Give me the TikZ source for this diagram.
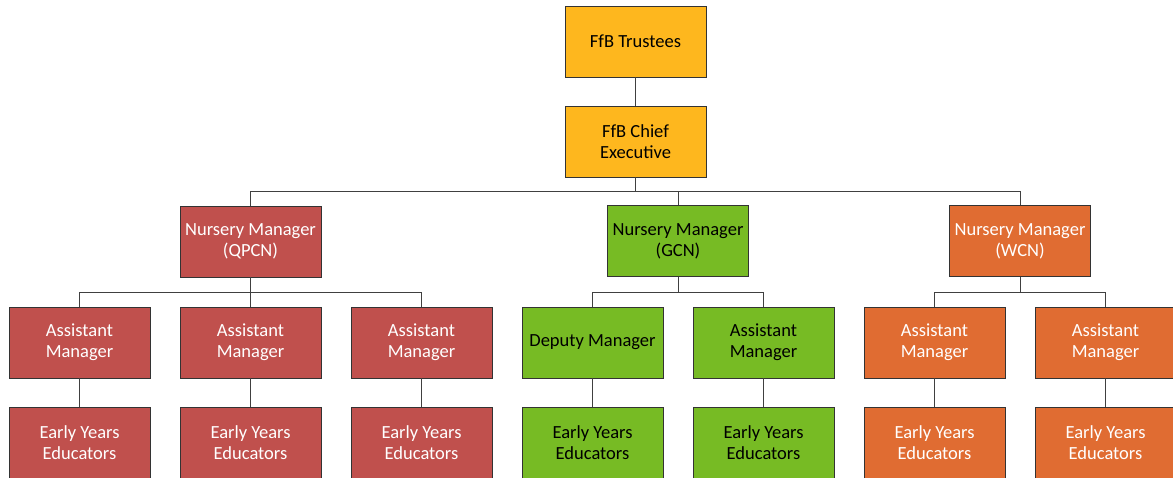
\documentclass[tikz,border=0pt]{standalone}
\usepackage{fontspec}
\setmainfont{Carlito}
\usetikzlibrary{calc}
\usetikzlibrary{positioning}
\definecolor{ffbgold}{RGB}{254,183,30}
\definecolor{ffbred}{RGB}{192,80,77}
\definecolor{ffbgreen}{RGB}{119,187,36}
\definecolor{ffborange}{RGB}{224,108,50}
\tikzset{
  post/.style={draw=black!80,line width=0.8pt,minimum width=141pt,minimum height=71pt,align=center,font=\fontsize{18.5}{21}\selectfont,inner sep=2pt},
  top post/.style={post,fill=ffbgold,text=black},
  qpcn post/.style={post,fill=ffbred,text=white},
  gcn post/.style={post,fill=ffbgreen,text=black},
  wcn post/.style={post,fill=ffborange,text=white},
  link/.style={draw=black!75,line width=0.8pt}
}
\begin{document}
\begin{tikzpicture}[x=1pt,y=-1pt,node distance=28.2pt and 29.2pt]
\clip (0,0) rectangle (1173,477);

\node[top post] (trustees) at (635.5,41.5) {FfB Trustees};
\node[top post,below=of trustees] (chief) {FfB Chief\\Executive};

\node[qpcn post] (q am1) at (79.5,342.5) {Assistant\\Manager};
\node[qpcn post,right=of q am1] (q am2) {Assistant\\Manager};
\node[qpcn post,right=of q am2] (q am3) {Assistant\\Manager};
\node[gcn post,right=of q am3] (g dm) {Deputy Manager};
\node[gcn post,right=of g dm] (g am) {Assistant\\Manager};
\node[wcn post,right=of g am] (w am1) {Assistant\\Manager};
\node[wcn post,right=of w am1] (w am2) {Assistant\\Manager};

\node[qpcn post,above=29.2pt of q am2] (qpcn) {Nursery Manager\\(QPCN)};
\node[gcn post,anchor=south,above=29.6pt of $(g dm.north)!0.5!(g am.north)$] (gcn) {Nursery Manager\\(GCN)};
\node[wcn post,anchor=south,above=29.6pt of $(w am1.north)!0.5!(w am2.north)$] (wcn) {Nursery Manager\\(WCN)};

\foreach \n/\s in {q am1/qpcn,q am2/qpcn,q am3/qpcn,g dm/gcn,g am/gcn,w am1/wcn,w am2/wcn} {
  \node[\s\space post,below=of \n] (\n\space eye) {Early Years\\Educators};
  \draw[link] (\n) -- (\n\space eye);
}

\draw[link] (trustees) -- (chief);
\foreach \m in {qpcn,gcn,wcn}
  \draw[link] (chief.south) -- ++(0,14) -| (\m.north);
\foreach \a in {q am1,q am2,q am3}
  \draw[link] (qpcn.south) -- ++(0,15) -| (\a.north);
\foreach \a in {g dm,g am}
  \draw[link] (gcn.south) -- ++(0,15) -| (\a.north);
\foreach \a in {w am1,w am2}
  \draw[link] (wcn.south) -- ++(0,15) -| (\a.north);
\end{tikzpicture}
\end{document}
